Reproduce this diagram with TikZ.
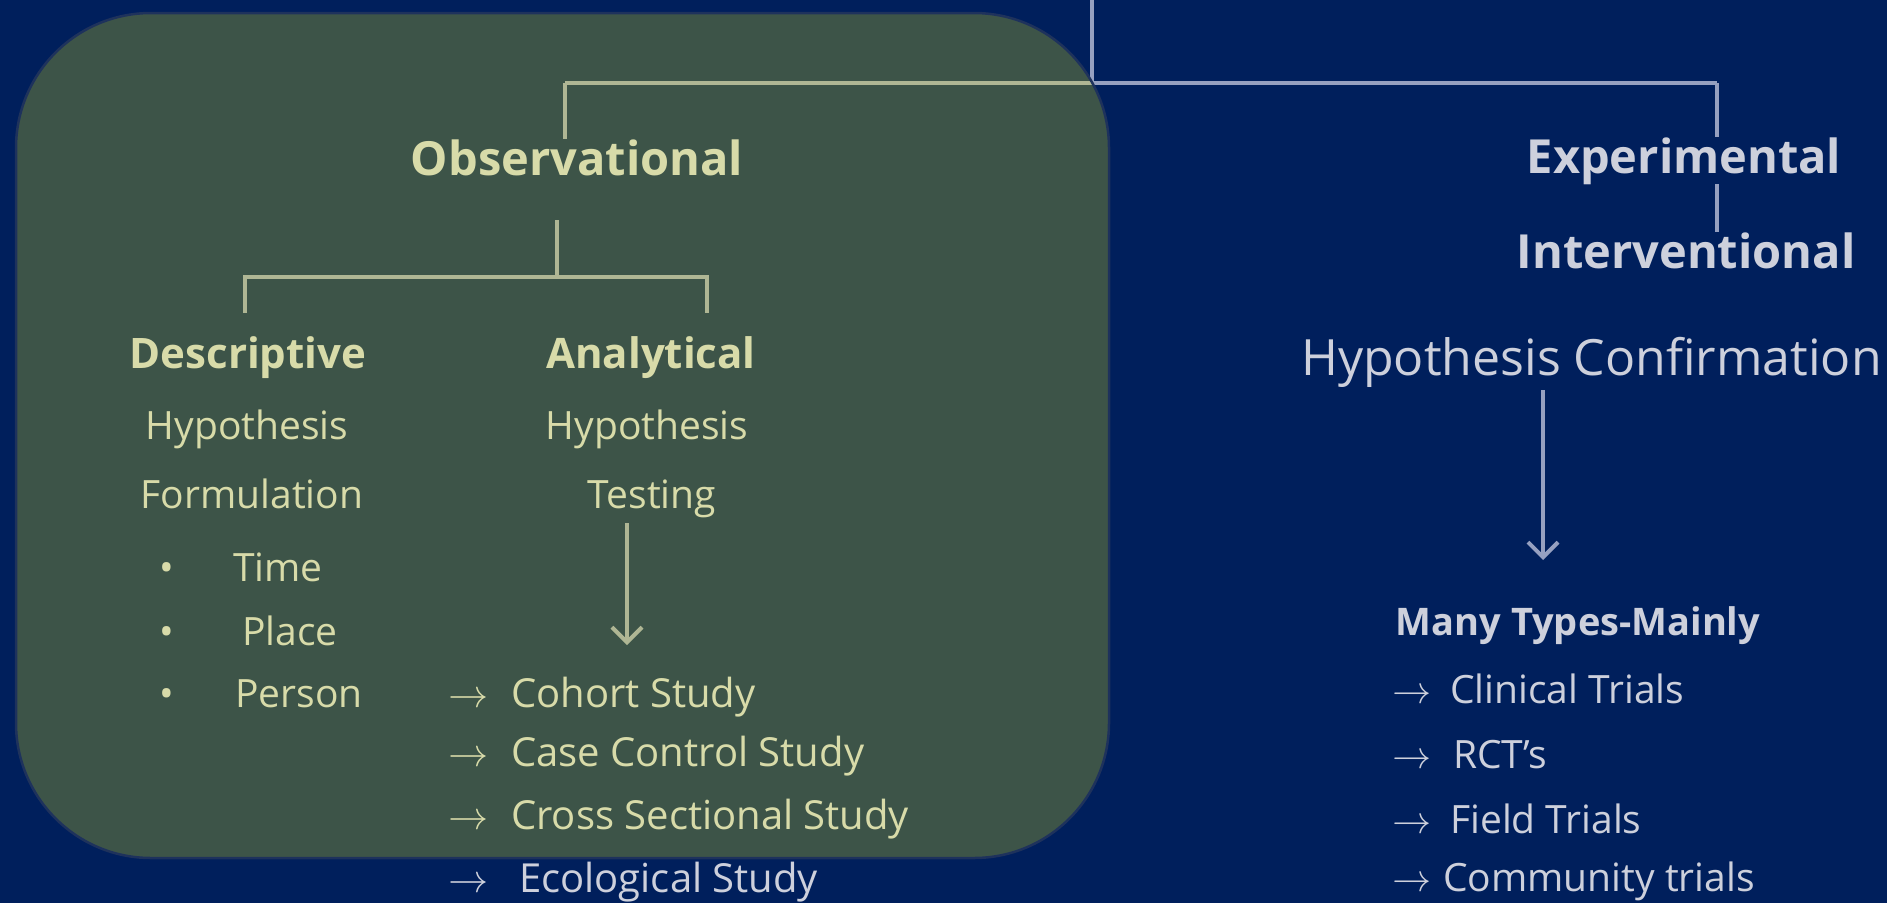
\documentclass[tikz,border=0pt]{standalone}
\usepackage{fontspec}
\usepackage{unicode-math}
\setmainfont{Open Sans}
\usetikzlibrary{arrows.meta}

\definecolor{navybg}{RGB}{0,31,92}
\definecolor{inktext}{RGB}{205,208,220}
\definecolor{inkline}{RGB}{150,160,192}
\definecolor{hilite}{RGB}{255,255,10}
\definecolor{hiliteedge}{RGB}{30,50,92}
\newcommand{\fsz}[1]{\fontsize{#1}{#1}\selectfont}

\begin{document}
\begin{tikzpicture}[x=1pt,y=-1pt]
\tikzset{txt/.style={inner sep=0pt,anchor=base,text=inktext},
  hd/.style={txt,font=\fsz{47}\bfseries},
  sub/.style={txt,font=\fsz{42}\bfseries},
  body/.style={txt,font=\fsz{39}},
  item/.style={txt,anchor=base west,font=\fsz{40}},
  wire/.style={draw=inkline,line width=4pt},
  downarr/.style={wire,-{Straight Barb[length=15pt,width=30pt]}}}
\clip (0,0) rectangle (1887,903);
\fill [navybg] (0,0) rectangle (1887,903);
\node [hd] (obs) at (577,175) {Observational};
\node [hd] (exper) at (1684,173) {Experimental};
\node [hd] (interv) at (1686,268) {Interventional};
\node [txt,anchor=base west,font=\fsz{50}] (confirm) at (1301,375) {Hypothesis Confirmation};
\node [txt,font=\fsz{38}\bfseries] (many) at (1578,635) {Many Types-Mainly};
\node [item,font=\fsz{39}] (clinical) at (1450,703) {\llap{$\rightarrow$\hspace{19pt}}Clinical Trials};
\node [item,font=\fsz{39}] (rct) at (1453,768) {\llap{$\rightarrow$\hspace{22pt}}RCT's};
\node [item,font=\fsz{39}] (field) at (1450,833) {\llap{$\rightarrow$\hspace{19pt}}Field Trials};
\node [item,font=\fsz{39}] (community) at (1443,891) {\llap{$\rightarrow$\hspace{12pt}}Community trials};
\node [sub] (descr) at (248,368) {Descriptive};
\node [sub] (analyt) at (651,368) {Analytical};
\node [body] (hypform) at (247,439) {Hypothesis};
\node [body] (formul) at (252,508) {Formulation};
\node [body] (hyptest) at (647,439) {Hypothesis};
\node [body] (testing) at (652,508) {Testing};
\node [item,font=\fsz{39}] (time) at (233,581) {\llap{•\hspace{59pt}}Time};
\node [item,font=\fsz{39}] (place) at (242,645) {\llap{•\hspace{68pt}}Place};
\node [item,font=\fsz{39}] (person) at (235,707) {\llap{•\hspace{61pt}}Person};
\node [item] (cohort) at (511,707) {\llap{$\rightarrow$\hspace{23pt}}Cohort Study};
\node [item] (casectl) at (511,766) {\llap{$\rightarrow$\hspace{23pt}}Case Control Study};
\node [item] (cross) at (511,829) {\llap{$\rightarrow$\hspace{23pt}}Cross Sectional Study};
\node [item] (ecolog) at (519,892) {\llap{$\rightarrow$\hspace{31pt}}Ecological Study};
\coordinate (root) at (1092,0);
\coordinate (jroot) at (1092,83);
\coordinate (jobs) at (565,83);
\coordinate (jexp) at (1717,83);
\coordinate (obsfoot) at (557,220);
\coordinate (jsplit) at (557,277);
\coordinate (legdesc) at (245,313);
\coordinate (leganl) at (707,313);
\coordinate (testtop) at (627,523);
\coordinate (testbot) at (627,645);
\coordinate (conftop) at (1543,390);
\coordinate (confbot) at (1543,560);
\draw [wire] (root) -- (jroot);
\draw [wire] (jobs) -- (jexp);
\draw [wire] (jobs) -- (jobs |- obs.north);
\draw [wire] (jexp) -- (jexp |- exper.north);
\draw [wire] (jexp |- exper.south) -- (jexp |- interv.north);
\draw [wire] (obsfoot) -- (jsplit);
\draw [wire] (legdesc) |- (jsplit) -| (leganl);
\draw [downarr] (testtop) -- (testbot);
\draw [downarr] (conftop) -- (confbot);
\draw [draw=hiliteedge,line width=2.5pt,fill=hilite,fill opacity=0.24,rounded corners=135pt] (16,13) rectangle (1109,858);
\end{tikzpicture}
\end{document}
